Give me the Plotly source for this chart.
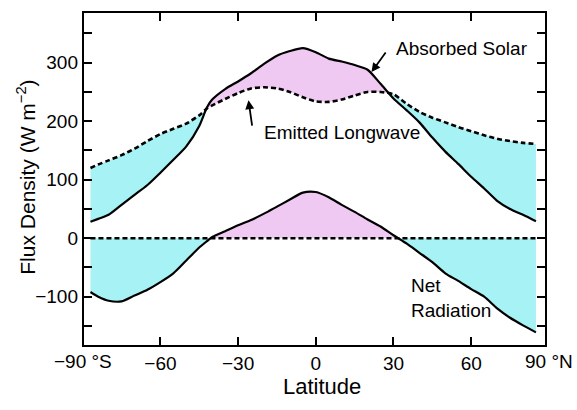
import plotly.graph_objects as go

# ---------------- data ----------------
latitude = [-87, -84, -80, -75, -70, -65, -60, -55, -50, -45, -42, -40, -35, -30, -25, -20, -15, -10, -5, 0,
            5, 10, 15, 20, 25, 30, 35, 40, 45, 50, 55, 60, 65, 70, 75, 80, 85]
absorbed_solar = [28, 33, 40, 57, 74, 91, 112, 134, 157, 192, 224, 237, 255, 268, 282, 298, 312, 320, 325, 318,
                  307, 302, 296, 288, 264, 239, 219, 198, 172, 148, 127, 105, 85, 64, 50, 40, 29]
emitted_longwave = [120, 126, 133, 142, 153, 166, 178, 187, 196, 210, 222, 227, 238, 248, 256, 258, 256, 250, 241, 234,
                    233, 237, 244, 250, 250, 246, 230, 216, 206, 198, 190, 183, 176, 170, 166, 163, 161]
net_radiation = [-92, -100, -107, -108, -98, -88, -75, -60, -38, -16, -5, 2, 12, 22, 31, 42, 54, 66, 78, 79,
                 70, 57, 45, 32, 20, 5, -9, -25, -41, -60, -73, -87, -100, -120, -136, -149, -161]
zero_line = [0.0 for _ in latitude]

x_tickvals = [-60, -30, 0, 30, 60]
x_ticktext = ["−60", "−30", "0", "30", "60"]
x_end_labels = {-90: "−90 °S", 90: "90 °N"}
y_tickvals = [-150, -100, -50, 0, 50, 100, 150, 200, 250, 300, 350]
y_ticktext = ["", "−100", "", "0", "", "100", "", "200", "", "300", ""]

SURPLUS = "#f0c9f2"   # pink
DEFICIT = "#a6f2f4"   # cyan
FONT = "Liberation Sans, Arial, sans-serif"
X_RANGE = [-89.5, 88.5]
Y_RANGE = [-182.6, 385]


def split_regions(x, upper, lower):
    """Split the band between two curves into pieces of constant sign."""
    pieces = []
    cur_x, cur_u, cur_l = [x[0]], [upper[0]], [lower[0]]
    cur_sign = upper[0] >= lower[0]
    for i in range(1, len(x)):
        d0 = upper[i - 1] - lower[i - 1]
        d1 = upper[i] - lower[i]
        sign = d1 >= 0
        if sign != cur_sign and d0 != d1:
            t = d0 / (d0 - d1)
            xc = x[i - 1] + t * (x[i] - x[i - 1])
            yc = upper[i - 1] + t * (upper[i] - upper[i - 1])
            cur_x.append(xc); cur_u.append(yc); cur_l.append(yc)
            pieces.append((cur_x, cur_u, cur_l, cur_sign))
            cur_x, cur_u, cur_l = [xc], [yc], [yc]
            cur_sign = sign
        cur_x.append(x[i]); cur_u.append(upper[i]); cur_l.append(lower[i])
    pieces.append((cur_x, cur_u, cur_l, cur_sign))
    return pieces


fig = go.Figure()

for up, lo in ((absorbed_solar, emitted_longwave), (net_radiation, zero_line)):
    for xs, us, ls, positive in split_regions(latitude, up, lo):
        fig.add_trace(go.Scatter(
            x=xs + xs[::-1], y=us + ls[::-1], mode="lines", fill="toself",
            fillcolor=SURPLUS if positive else DEFICIT, line=dict(width=0),
            hoverinfo="skip", showlegend=False))

line_solid = dict(color="black", width=2.2, shape="spline", smoothing=0.7)
line_dash = dict(color="black", width=2.6, dash="5px,3px", shape="spline", smoothing=0.7)

fig.add_trace(go.Scatter(x=latitude, y=emitted_longwave, mode="lines", line=line_dash,
                         name="Emitted Longwave", showlegend=False))
fig.add_trace(go.Scatter(x=latitude, y=absorbed_solar, mode="lines", line=line_solid,
                         name="Absorbed Solar", showlegend=False))
fig.add_trace(go.Scatter(x=latitude, y=zero_line, mode="lines",
                         line=dict(color="black", width=2.6, dash="5px,3px"),
                         showlegend=False, hoverinfo="skip"))
fig.add_trace(go.Scatter(x=latitude, y=net_radiation, mode="lines", line=line_solid,
                         name="Net Radiation", showlegend=False))

annotations = [
    dict(x=56.5, y=325, text="Absorbed Solar", showarrow=False, xanchor="center", yanchor="middle",
         font=dict(size=19)),
    dict(x=21.5, y=284, text=" ", showarrow=True, ax=16, ay=-22, arrowhead=2, arrowsize=1,
         arrowwidth=1.8, arrowcolor="black", font=dict(size=2)),
    dict(x=10, y=180, text="Emitted Longwave", showarrow=False, xanchor="center", yanchor="middle",
         font=dict(size=19)),
    dict(x=-26, y=236, text=" ", showarrow=True, ax=4, ay=28, arrowhead=2, arrowsize=1,
         arrowwidth=1.8, arrowcolor="black", font=dict(size=2)),
    dict(x=36, y=-103, text="Net<br>Radiation", showarrow=False, xanchor="left", yanchor="middle",
         align="left", font=dict(size=19)),
    dict(x=0.516, y=-0.125, xref="paper", yref="paper", text="Latitude", showarrow=False,
         xanchor="center", yanchor="middle", font=dict(size=22)),
    dict(x=-0.125, y=0.505, xref="paper", yref="paper", text="Flux Density (W m<sup>−2</sup>)",
         showarrow=False, textangle=-90, xanchor="center", yanchor="middle", font=dict(size=21)),
]
for xv, txt in x_end_labels.items():
    annotations.append(dict(x=(xv - X_RANGE[0]) / (X_RANGE[1] - X_RANGE[0]), y=-0.05,
                            xref="paper", yref="paper", text=txt, showarrow=False,
                            xanchor="center", yanchor="middle", font=dict(size=19)))

fig.update_layout(
    width=577, height=410,
    margin=dict(l=84, r=32, t=13, b=65),
    paper_bgcolor="white", plot_bgcolor="white",
    font=dict(family=FONT, color="black", size=19),
    annotations=annotations,
    xaxis=dict(range=X_RANGE, tickvals=x_tickvals, ticktext=x_ticktext, ticks="inside",
               ticklen=8, tickwidth=1.8, tickcolor="black", showline=True, linecolor="black",
               linewidth=2.4, mirror="ticks", showgrid=False, zeroline=False,
               tickfont=dict(size=19)),
    yaxis=dict(range=Y_RANGE, tickvals=y_tickvals, ticktext=y_ticktext, ticks="inside",
               ticklen=8, tickwidth=1.8, tickcolor="black", showline=True, linecolor="black",
               linewidth=2.4, mirror="ticks", showgrid=False, zeroline=False,
               tickfont=dict(size=19)),
)

fig.write_html("out.html", post_script="document.body.style.margin='0';",
               config={"displayModeBar": False})
